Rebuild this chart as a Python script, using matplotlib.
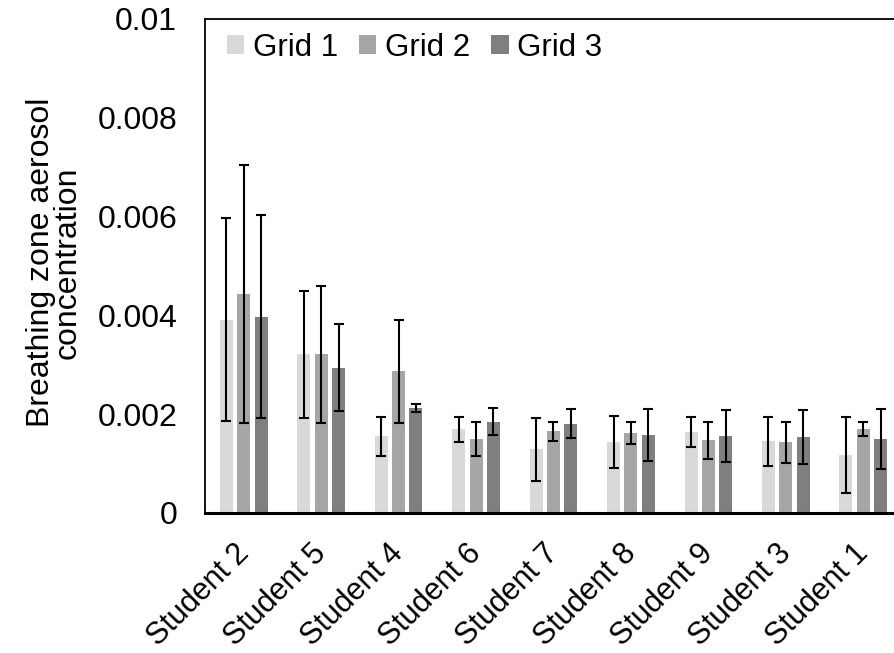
import matplotlib.pyplot as plt
import matplotlib.transforms as mtransforms
import numpy as np

plt.rcParams['font.family'] = ['Liberation Sans', 'DejaVu Sans']

students = ['Student 2', 'Student 5', 'Student 4', 'Student 6', 'Student 7',
            'Student 8', 'Student 9', 'Student 3', 'Student 1']
grid1 = [0.00391, 0.00321, 0.00155, 0.00169, 0.00129, 0.00144, 0.00164, 0.00145, 0.00117]
grid2 = [0.00443, 0.00321, 0.00287, 0.00150, 0.00165, 0.00162, 0.00147, 0.00143, 0.00170]
grid3 = [0.00397, 0.00294, 0.00212, 0.00185, 0.00181, 0.00158, 0.00156, 0.00154, 0.00150]
err1 = [0.00205, 0.00128, 0.00039, 0.00025, 0.00064, 0.00052, 0.00031, 0.00050, 0.00077]
err2 = [0.00260, 0.00138, 0.00104, 0.00035, 0.00020, 0.00023, 0.00037, 0.00042, 0.00015]
err3 = [0.00205, 0.00088, 0.00008, 0.00027, 0.00029, 0.00052, 0.00053, 0.00055, 0.00060]

colors = ['#d9d9d9', '#a6a6a6', '#7f7f7f']
labels = ['Grid 1', 'Grid 2', 'Grid 3']

fig = plt.figure(figsize=(8.94, 6.53), dpi=100)
ax = fig.add_axes([0.2293, 0.2144, 0.7796, 0.7571])

x = np.arange(len(students))
w = 0.168
step = 0.224
for i, (vals, errs) in enumerate(zip([grid1, grid2, grid3], [err1, err2, err3])):
    ax.bar(x + (i - 1) * step, vals, w, color=colors[i], label=labels[i],
           yerr=errs, capsize=3.5,
           error_kw=dict(ecolor='black', elinewidth=1.5, capthick=1.5))

ax.set_xlim(-0.5, len(students) - 0.5)
ax.set_ylim(0, 0.01)
ax.set_yticks([0, 0.002, 0.004, 0.006, 0.008, 0.01])
ax.set_yticklabels(['0', '0.002', '0.004', '0.006', '0.008', '0.01'])
ax.set_xticks(x)
ax.set_xticklabels(students, rotation=45, ha='right', va='top', rotation_mode='anchor')
ax.tick_params(axis='y', length=0, labelsize=23, colors='black', pad=20)
ax.tick_params(axis='x', length=0, labelsize=22, colors='black', pad=18)
shift = mtransforms.ScaledTranslation(-10 / 100, 0, fig.dpi_scale_trans)
for lab in ax.get_xticklabels():
    lab.set_transform(lab.get_transform() + shift)

for s in ['left', 'top']:
    ax.spines[s].set_linewidth(1.3)
ax.spines['bottom'].set_linewidth(2.2)
ax.spines['right'].set_visible(False)

ax.set_ylabel('Breathing zone aerosol\nconcentration', fontsize=23, linespacing=0.88)
ax.yaxis.set_label_coords(-0.175, 0.507)

ax.legend(loc='upper left', ncol=3, frameon=False, fontsize=22.5,
          handlelength=0.55, handleheight=0.55, handletextpad=0.28,
          columnspacing=0.68, borderaxespad=0.0, borderpad=0.0,
          bbox_to_anchor=(0.031, 0.971))

fig.savefig('out.png', dpi=100)
